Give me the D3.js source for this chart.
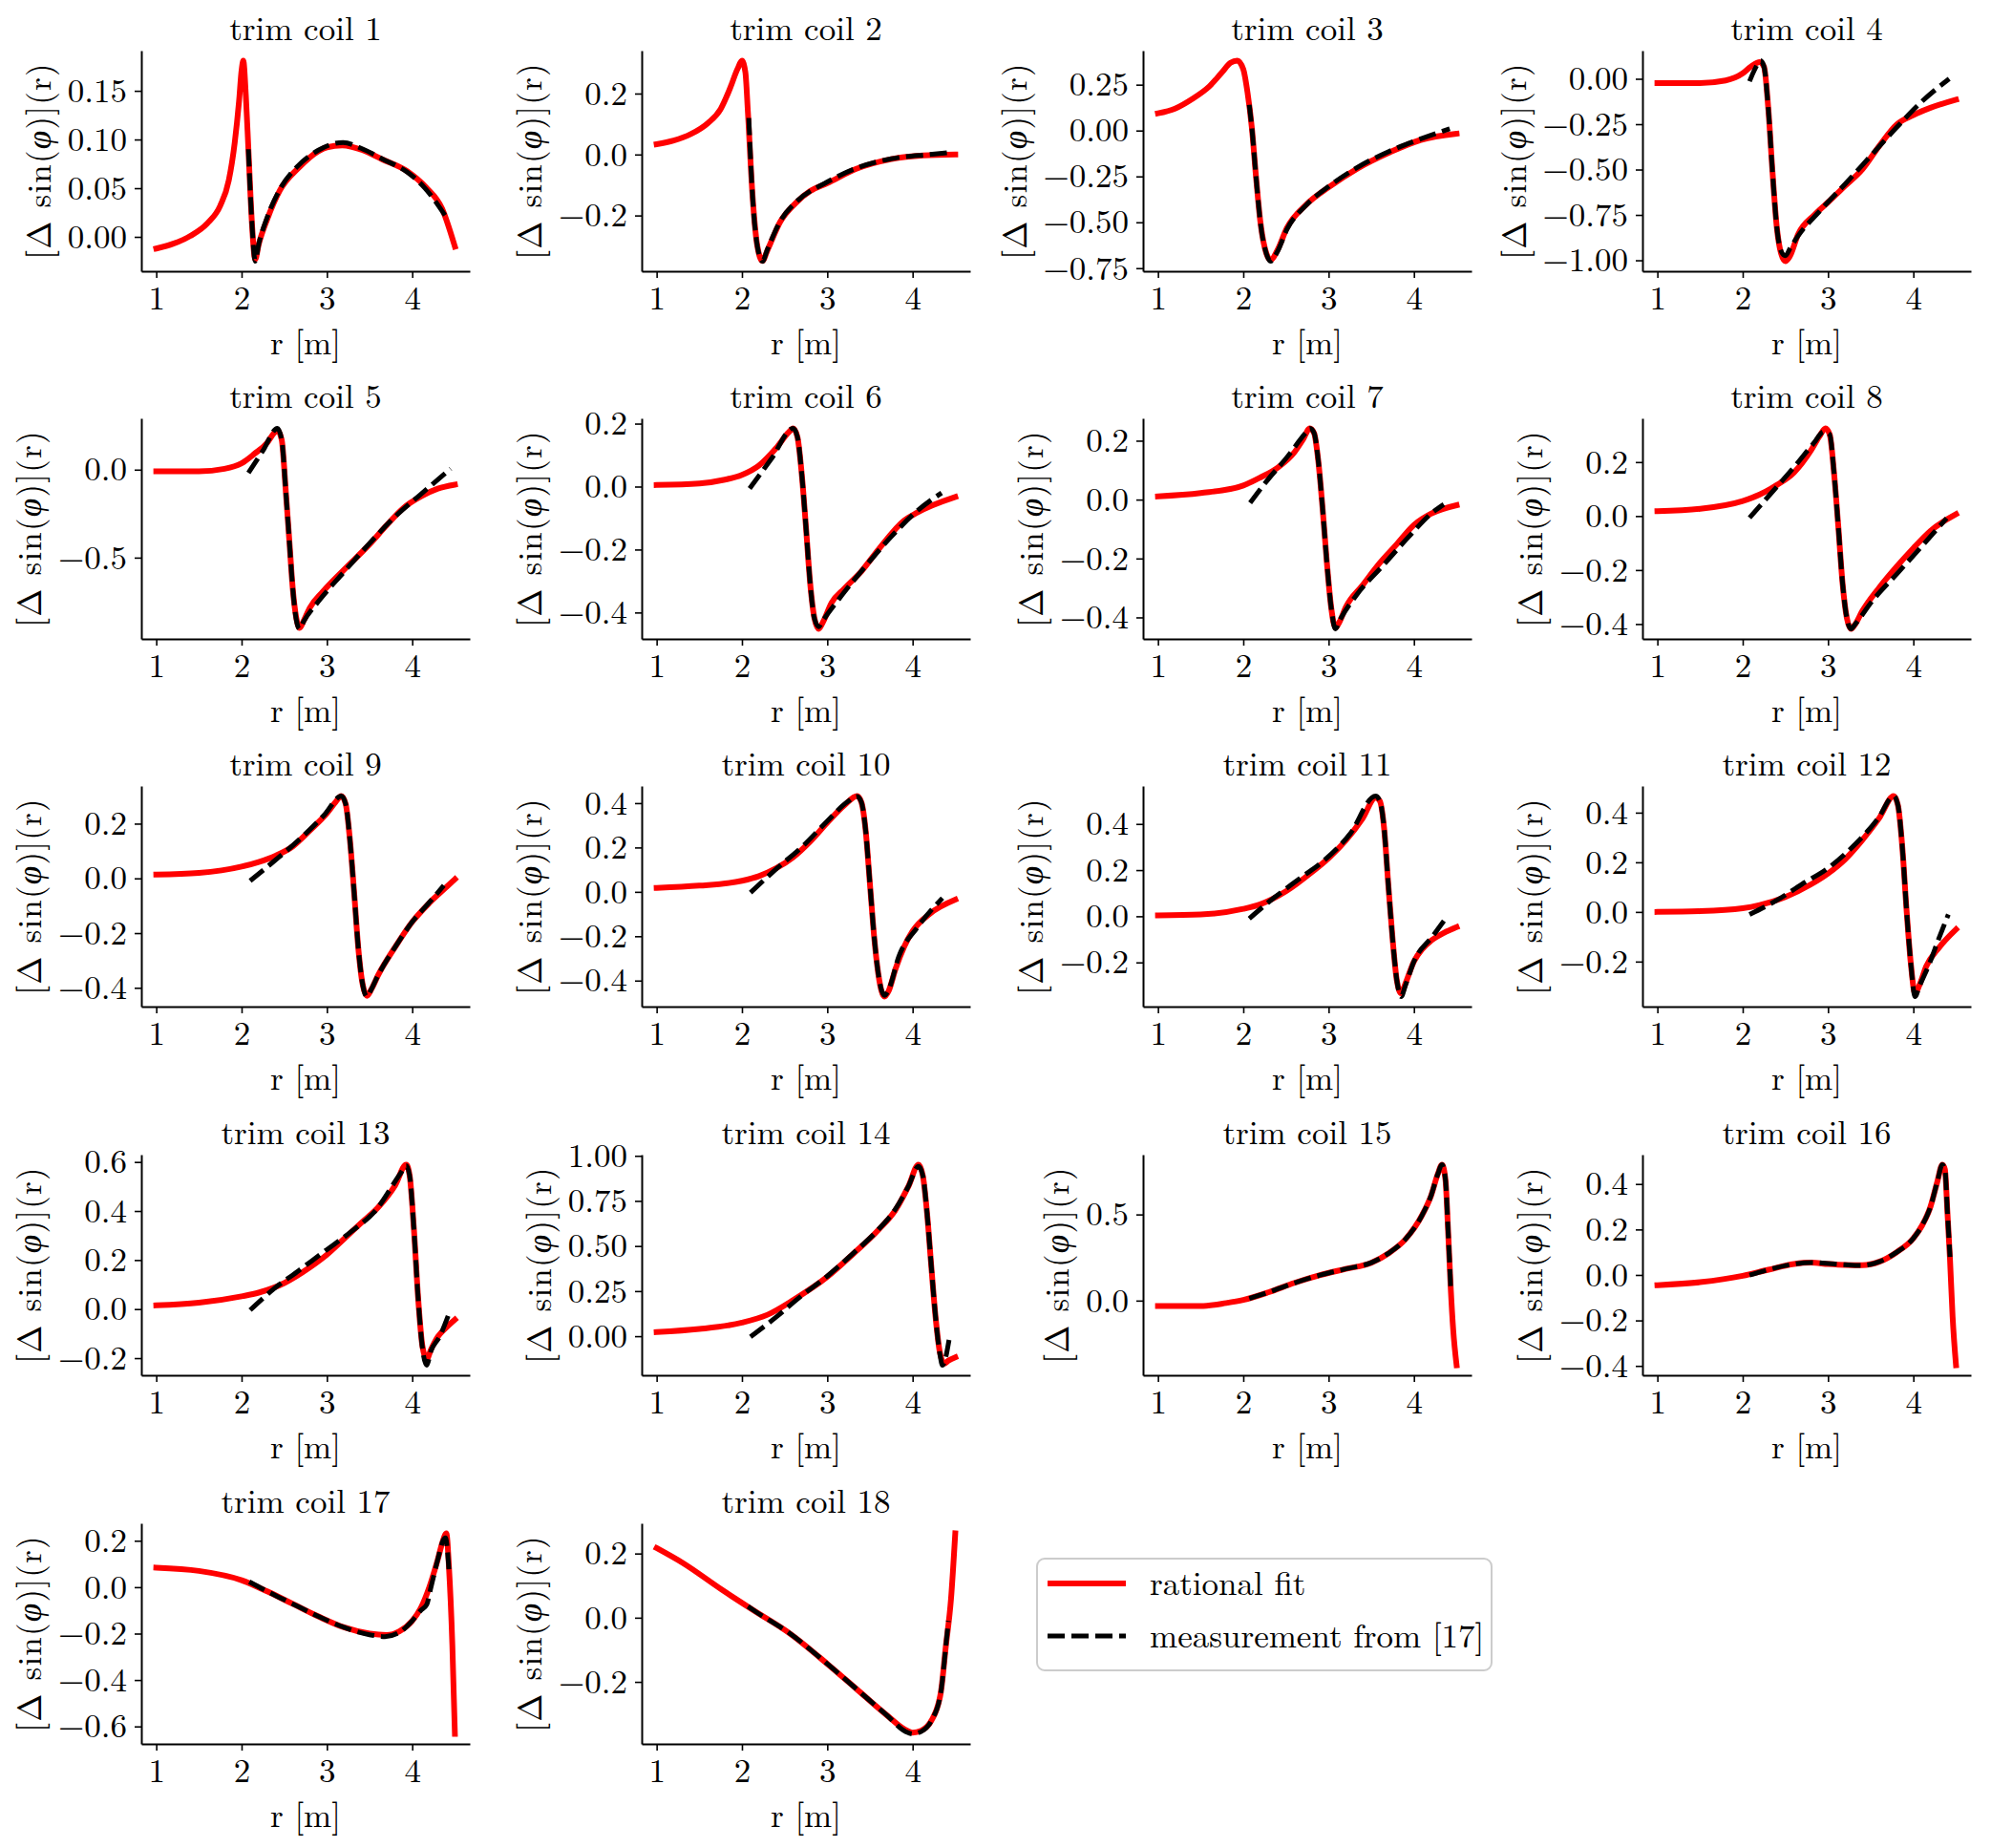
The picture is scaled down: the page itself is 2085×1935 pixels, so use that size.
<!DOCTYPE html>
<html>
<head>
<meta charset="utf-8">
<script src="https://cdn.jsdelivr.net/npm/d3@7"></script>
<style>
  body { margin: 0; background: #fff; }
  svg { display: block; }
  text { font-family: "Latin Modern Roman", "CMU Serif", "Liberation Serif", "Times New Roman", serif; fill: #000; }
</style>
</head>
<body>
<svg id="chart" width="2085" height="1935"></svg>
<script>
const fit1 = [[1,-0.012],[1.2,-0.007],[1.4,0.001],[1.6,0.014],[1.75,0.032],[1.85,0.058],[1.92,0.097],[1.97,0.139],[2.0,0.171],[2.02,0.181],[2.05,0.145],[2.08,0.09],[2.12,0.016],[2.16,-0.023],[2.2,-0.008],[2.3,0.018],[2.45,0.048],[2.67,0.071],[2.9,0.088],[3.0,0.092],[3.18,0.094],[3.42,0.089],[3.64,0.08],[3.94,0.0675],[4.16,0.051],[4.35,0.029],[4.5,-0.01]];
const meas1 = [[2.08,0.09],[2.12,0.016],[2.16,-0.025],[2.2,-0.008],[2.3,0.02],[2.45,0.049],[2.65,0.072],[2.9,0.089],[3.19,0.097],[3.4,0.091],[3.65,0.08],[3.95,0.066],[4.15,0.05],[4.4,0.02]];

const fit2 = [[1,0.034],[1.2,0.046],[1.4,0.067],[1.6,0.103],[1.75,0.149],[1.85,0.21],[1.95,0.282],[2.0,0.308],[2.04,0.27],[2.07,0.138],[2.12,-0.118],[2.18,-0.3],[2.24,-0.349],[2.3,-0.313],[2.45,-0.22],[2.63,-0.159],[2.8,-0.12],[3.0,-0.094],[3.34,-0.047],[3.75,-0.015],[4.12,-0.003],[4.5,0.0]];
const meas2 = [[2.08,0.12],[2.12,-0.118],[2.18,-0.3],[2.24,-0.35],[2.3,-0.31],[2.45,-0.218],[2.63,-0.157],[3.0,-0.09],[3.34,-0.045],[3.75,-0.014],[4.2,0.0],[4.43,0.006]];

const fit3 = [[1,0.094],[1.2,0.12],[1.4,0.172],[1.6,0.24],[1.75,0.317],[1.85,0.369],[1.93,0.381],[2.0,0.334],[2.05,0.206],[2.1,0.017],[2.15,-0.257],[2.2,-0.497],[2.27,-0.669],[2.32,-0.705],[2.4,-0.652],[2.51,-0.532],[2.74,-0.403],[3.0,-0.309],[3.34,-0.206],[3.71,-0.12],[4.08,-0.051],[4.5,-0.017]];
const meas3 = [[2.07,0.14],[2.1,0.017],[2.15,-0.257],[2.2,-0.5],[2.27,-0.67],[2.32,-0.712],[2.4,-0.66],[2.51,-0.54],[2.74,-0.405],[3.0,-0.305],[3.34,-0.2],[3.71,-0.113],[4.08,-0.045],[4.42,0.01]];

const fit4 = [[1,-0.023],[1.5,-0.023],[1.8,-0.009],[2.0,0.03],[2.1,0.069],[2.2,0.092],[2.25,0.066],[2.3,-0.165],[2.35,-0.52],[2.4,-0.82],[2.45,-0.963],[2.5,-1.005],[2.55,-0.98],[2.65,-0.856],[2.84,-0.75],[3.0,-0.68],[3.2,-0.59],[3.4,-0.5],[3.6,-0.37],[3.81,-0.25],[4.0,-0.2],[4.2,-0.16],[4.5,-0.115]];
const meas4 = [[2.08,-0.014],[2.15,0.06],[2.21,0.1],[2.25,0.066],[2.3,-0.165],[2.35,-0.52],[2.4,-0.82],[2.45,-0.95],[2.5,-0.975],[2.56,-0.93],[2.65,-0.865],[2.9,-0.73],[3.2,-0.58],[3.5,-0.425],[3.8,-0.27],[4.1,-0.125],[4.42,0.0]];

const fit5 = [[1,-0.009],[1.5,-0.009],[1.8,0.005],[2.0,0.036],[2.15,0.09],[2.3,0.153],[2.38,0.208],[2.42,0.226],[2.47,0.17],[2.52,-0.135],[2.56,-0.406],[2.6,-0.677],[2.64,-0.84],[2.68,-0.9],[2.73,-0.857],[2.8,-0.785],[2.95,-0.695],[3.2,-0.569],[3.5,-0.424],[3.7,-0.316],[3.9,-0.217],[4.1,-0.153],[4.3,-0.108],[4.5,-0.085]];
const meas5 = [[2.08,-0.018],[2.25,0.108],[2.42,0.235],[2.47,0.17],[2.52,-0.135],[2.56,-0.406],[2.6,-0.677],[2.64,-0.85],[2.68,-0.905],[2.73,-0.86],[2.9,-0.749],[3.19,-0.587],[3.49,-0.424],[3.79,-0.271],[4.09,-0.144],[4.35,-0.036],[4.45,0.005]];

const fit6 = [[1,0.005],[1.5,0.01],[1.8,0.022],[2.0,0.037],[2.2,0.067],[2.4,0.122],[2.55,0.173],[2.6,0.185],[2.65,0.158],[2.7,0.042],[2.75,-0.128],[2.8,-0.309],[2.85,-0.419],[2.9,-0.452],[2.95,-0.43],[3.05,-0.369],[3.2,-0.324],[3.4,-0.269],[3.6,-0.2],[3.9,-0.108],[4.05,-0.083],[4.5,-0.033]];
const meas6 = [[2.09,-0.006],[2.35,0.09],[2.6,0.185],[2.65,0.158],[2.7,0.042],[2.75,-0.128],[2.8,-0.309],[2.85,-0.42],[2.9,-0.445],[2.95,-0.425],[3.16,-0.349],[3.46,-0.249],[3.75,-0.159],[4.05,-0.078],[4.34,-0.02]];

const fit7 = [[1,0.011],[1.5,0.022],[2.0,0.048],[2.2,0.075],[2.4,0.108],[2.6,0.161],[2.7,0.204],[2.78,0.242],[2.83,0.226],[2.88,0.129],[2.93,-0.032],[2.98,-0.215],[3.03,-0.366],[3.08,-0.435],[3.13,-0.414],[3.2,-0.366],[3.4,-0.29],[3.6,-0.215],[3.8,-0.151],[4.0,-0.086],[4.2,-0.048],[4.5,-0.019]];
const meas7 = [[2.08,-0.011],[2.28,0.065],[2.51,0.143],[2.73,0.226],[2.78,0.242],[2.83,0.226],[2.88,0.129],[2.93,-0.032],[2.98,-0.215],[3.03,-0.366],[3.08,-0.439],[3.13,-0.41],[3.33,-0.323],[3.63,-0.226],[3.93,-0.129],[4.22,-0.043],[4.35,-0.016]];

const fit8 = [[1,0.018],[1.5,0.027],[2.0,0.056],[2.2,0.08],[2.4,0.115],[2.6,0.161],[2.8,0.243],[2.9,0.296],[2.97,0.325],[3.02,0.302],[3.07,0.161],[3.12,-0.037],[3.17,-0.248],[3.22,-0.377],[3.27,-0.418],[3.32,-0.4],[3.4,-0.353],[3.6,-0.265],[3.8,-0.189],[4.0,-0.119],[4.2,-0.055],[4.5,0.007]];
const meas8 = [[2.08,-0.006],[2.32,0.08],[2.58,0.173],[2.84,0.273],[2.95,0.313],[3.02,0.302],[3.07,0.161],[3.12,-0.037],[3.17,-0.248],[3.22,-0.377],[3.27,-0.418],[3.32,-0.4],[3.51,-0.318],[3.81,-0.213],[4.11,-0.108],[4.39,-0.008]];

const fit9 = [[1,0.014],[1.5,0.02],[2.0,0.043],[2.2,0.06],[2.4,0.083],[2.6,0.117],[2.8,0.175],[3.0,0.238],[3.1,0.278],[3.17,0.301],[3.22,0.272],[3.27,0.14],[3.32,-0.055],[3.37,-0.262],[3.42,-0.389],[3.47,-0.429],[3.52,-0.406],[3.6,-0.354],[3.8,-0.251],[4.0,-0.159],[4.2,-0.09],[4.4,-0.032],[4.5,-0.003]];
const meas9 = [[2.1,-0.009],[2.37,0.06],[2.67,0.14],[2.97,0.232],[3.17,0.301],[3.22,0.272],[3.27,0.14],[3.32,-0.055],[3.37,-0.262],[3.42,-0.389],[3.47,-0.432],[3.52,-0.406],[3.6,-0.354],[3.8,-0.251],[4.0,-0.159],[4.2,-0.088],[4.37,-0.026]];

const fit10 = [[1,0.018],[1.5,0.028],[2.0,0.05],[2.2,0.071],[2.4,0.106],[2.6,0.156],[2.8,0.227],[3.0,0.312],[3.2,0.39],[3.35,0.432],[3.4,0.404],[3.45,0.276],[3.5,0.035],[3.55,-0.205],[3.6,-0.375],[3.67,-0.472],[3.72,-0.446],[3.8,-0.347],[3.9,-0.248],[4.0,-0.177],[4.2,-0.099],[4.5,-0.035]];
const meas10 = [[2.1,-0.003],[2.41,0.106],[2.71,0.205],[3.0,0.319],[3.23,0.404],[3.35,0.43],[3.4,0.404],[3.45,0.276],[3.5,0.035],[3.55,-0.205],[3.6,-0.375],[3.67,-0.467],[3.72,-0.44],[3.84,-0.29],[4.05,-0.163],[4.35,-0.028]];

const fit11 = [[1,0.004],[1.5,0.008],[2.0,0.032],[2.2,0.052],[2.5,0.108],[2.8,0.19],[3.0,0.252],[3.2,0.328],[3.4,0.425],[3.55,0.514],[3.6,0.5],[3.65,0.383],[3.7,0.135],[3.75,-0.099],[3.8,-0.279],[3.85,-0.334],[3.9,-0.292],[4.0,-0.196],[4.1,-0.141],[4.2,-0.106],[4.35,-0.072],[4.5,-0.047]];
const meas11 = [[2.07,-0.01],[2.36,0.08],[2.66,0.163],[2.96,0.246],[3.25,0.356],[3.55,0.521],[3.6,0.5],[3.65,0.383],[3.7,0.135],[3.75,-0.099],[3.8,-0.279],[3.85,-0.348],[3.9,-0.3],[4.0,-0.196],[4.22,-0.086],[4.39,0.0]];

const fit12 = [[1,0.0],[1.5,0.003],[2.0,0.015],[2.2,0.028],[2.5,0.06],[2.8,0.111],[3.0,0.155],[3.2,0.212],[3.4,0.289],[3.6,0.378],[3.77,0.467],[3.82,0.429],[3.87,0.263],[3.92,0.009],[3.97,-0.207],[4.02,-0.328],[4.07,-0.296],[4.15,-0.22],[4.3,-0.144],[4.5,-0.07]];
const meas12 = [[2.08,-0.01],[2.4,0.047],[2.69,0.111],[2.99,0.174],[3.29,0.263],[3.59,0.378],[3.77,0.467],[3.82,0.429],[3.87,0.263],[3.92,0.009],[3.97,-0.207],[4.02,-0.341],[4.07,-0.3],[4.19,-0.207],[4.3,-0.106],[4.41,-0.01]];

const fit13 = [[1,0.015],[1.5,0.026],[2.0,0.052],[2.2,0.067],[2.5,0.106],[2.8,0.17],[3.0,0.222],[3.2,0.286],[3.4,0.351],[3.6,0.415],[3.8,0.505],[3.93,0.589],[3.97,0.544],[4.02,0.325],[4.07,0.041],[4.12,-0.152],[4.17,-0.204],[4.22,-0.165],[4.3,-0.113],[4.4,-0.075],[4.5,-0.043]];
const meas13 = [[2.1,-0.004],[2.37,0.08],[2.67,0.157],[2.97,0.235],[3.27,0.312],[3.57,0.402],[3.87,0.557],[3.93,0.585],[3.97,0.544],[4.02,0.325],[4.07,0.041],[4.12,-0.16],[4.17,-0.229],[4.22,-0.17],[4.32,-0.113],[4.44,-0.01]];

const fit14 = [[1,0.023],[1.5,0.04],[2.0,0.075],[2.3,0.119],[2.6,0.2],[3.0,0.329],[3.3,0.455],[3.6,0.59],[3.8,0.7],[3.95,0.83],[4.07,0.951],[4.12,0.89],[4.17,0.68],[4.22,0.382],[4.27,0.102],[4.32,-0.091],[4.37,-0.152],[4.42,-0.135],[4.5,-0.117]];
const meas14 = [[2.1,-0.004],[2.41,0.11],[2.7,0.225],[3.0,0.333],[3.3,0.458],[3.6,0.592],[3.8,0.705],[3.95,0.83],[4.07,0.942],[4.12,0.89],[4.17,0.68],[4.22,0.382],[4.27,0.102],[4.32,-0.1],[4.35,-0.161],[4.43,-0.012]];

const fit15 = [[1,-0.032],[1.5,-0.032],[1.8,-0.014],[2.0,0.004],[2.3,0.049],[2.6,0.103],[2.9,0.148],[3.2,0.184],[3.5,0.22],[3.7,0.274],[3.9,0.356],[4.1,0.5],[4.2,0.608],[4.28,0.735],[4.33,0.789],[4.37,0.699],[4.4,0.41],[4.43,0.085],[4.46,-0.168],[4.5,-0.375]];
const meas15 = [[2.07,0.012],[2.3,0.049],[2.6,0.103],[2.9,0.148],[3.2,0.184],[3.5,0.22],[3.7,0.274],[3.9,0.356],[4.1,0.5],[4.2,0.608],[4.28,0.735],[4.33,0.789],[4.37,0.699],[4.4,0.41],[4.43,0.085]];

const fit16 = [[1,-0.045],[1.5,-0.032],[2.0,-0.004],[2.3,0.023],[2.6,0.048],[2.8,0.054],[3.0,0.048],[3.2,0.044],[3.4,0.043],[3.6,0.058],[3.8,0.099],[4.0,0.161],[4.1,0.216],[4.2,0.299],[4.28,0.409],[4.34,0.485],[4.37,0.464],[4.4,0.271],[4.43,0.065],[4.46,-0.183],[4.5,-0.397]];
const meas16 = [[2.08,-0.001],[2.3,0.023],[2.6,0.048],[2.8,0.055],[3.0,0.05],[3.2,0.045],[3.4,0.042],[3.6,0.058],[3.8,0.099],[4.0,0.161],[4.1,0.216],[4.2,0.299],[4.28,0.409],[4.34,0.485],[4.37,0.464],[4.4,0.271],[4.43,0.079]];

const fit17 = [[1,0.084],[1.5,0.07],[2.0,0.03],[2.3,-0.018],[2.6,-0.072],[2.9,-0.126],[3.2,-0.173],[3.5,-0.2],[3.7,-0.206],[3.85,-0.19],[4.0,-0.145],[4.1,-0.09],[4.2,0.0],[4.3,0.12],[4.36,0.2],[4.4,0.232],[4.43,0.09],[4.47,-0.247],[4.5,-0.632]];
const meas17 = [[2.09,0.023],[2.3,-0.018],[2.6,-0.072],[2.9,-0.126],[3.2,-0.173],[3.5,-0.205],[3.68,-0.213],[3.85,-0.195],[4.0,-0.145],[4.1,-0.1],[4.17,-0.075],[4.22,0.0],[4.3,0.12],[4.36,0.2],[4.39,0.212],[4.43,0.077]];

const fit18 = [[1,0.217],[1.31,0.17],[1.76,0.088],[2.16,0.019],[2.56,-0.049],[3.01,-0.146],[3.35,-0.224],[3.69,-0.302],[3.92,-0.35],[4.0,-0.358],[4.1,-0.352],[4.22,-0.321],[4.33,-0.234],[4.39,-0.088],[4.45,0.058],[4.5,0.263]];
const meas18 = [[2.07,0.035],[2.16,0.019],[2.56,-0.049],[3.01,-0.146],[3.35,-0.224],[3.69,-0.302],[3.92,-0.355],[4.0,-0.362],[4.1,-0.355],[4.22,-0.321],[4.33,-0.234],[4.39,-0.088],[4.42,-0.01]];

const fits = [fit1,fit2,fit3,fit4,fit5,fit6,fit7,fit8,fit9,fit10,fit11,fit12,fit13,fit14,fit15,fit16,fit17,fit18];
const meass = [meas1,meas2,meas3,meas4,meas5,meas6,meas7,meas8,meas9,meas10,meas11,meas12,meas13,meas14,meas15,meas16,meas17,meas18];

const titles = d3.range(1, 19).map(i => "trim coil " + i);
const xTicks = [1, 2, 3, 4];
const yTickLabels = [
  ["0.00","0.05","0.10","0.15"],
  ["-0.2","0.0","0.2"],
  ["-0.75","-0.50","-0.25","0.00","0.25"],
  ["-1.00","-0.75","-0.50","-0.25","0.00"],
  ["-0.5","0.0"],
  ["-0.4","-0.2","0.0","0.2"],
  ["-0.4","-0.2","0.0","0.2"],
  ["-0.4","-0.2","0.0","0.2"],
  ["-0.4","-0.2","0.0","0.2"],
  ["-0.4","-0.2","0.0","0.2","0.4"],
  ["-0.2","0.0","0.2","0.4"],
  ["-0.2","0.0","0.2","0.4"],
  ["-0.2","0.0","0.2","0.4","0.6"],
  ["0.00","0.25","0.50","0.75","1.00"],
  ["0.0","0.5"],
  ["-0.4","-0.2","0.0","0.2","0.4"],
  ["-0.6","-0.4","-0.2","0.0","0.2"],
  ["-0.2","0.0","0.2"]
];
const legendLabels = ["rational fit", "measurement from [17]"];

// layout
const colLeft = [148, 672, 1197, 1720];
const rowTop = [53, 438, 823, 1209, 1595];
const pw = 344, ph = 231, fs = 35;
const red = "#ff0000";
const dash = "18,7";

const svg = d3.select("#chart");
svg.append("rect").attr("width", 2085).attr("height", 1935).attr("fill", "#fff");

const line = d3.line()
  .curve(d3.curveMonotoneX)
  .x(d => d[0]).y(d => d[1]);

fits.forEach((fit, i) => {
  const meas = meass[i];
  const all = fit.concat(meas);
  const [x0, x1] = d3.extent(all, d => d[0]);
  const [y0, y1] = d3.extent(all, d => d[1]);
  const xp = (x1 - x0) * 0.05, yp = (y1 - y0) * 0.05;
  const x = d3.scaleLinear().domain([x0 - xp, x1 + xp]).range([0, pw]);
  const y = d3.scaleLinear().domain([y0 - yp, y1 + yp]).range([ph, 0]);

  const g = svg.append("g")
    .attr("transform", `translate(${colLeft[i % 4]},${rowTop[Math.floor(i / 4)]})`);

  // curves
  g.append("path")
    .attr("d", line(fit.map(d => [x(d[0]), y(d[1])])))
    .attr("fill", "none")
    .attr("stroke", red)
    .attr("stroke-width", 6)
    .attr("stroke-linejoin", "round")
    .attr("stroke-linecap", "square");
  g.append("path")
    .attr("d", line(meas.map(d => [x(d[0]), y(d[1])])))
    .attr("fill", "none")
    .attr("stroke", "#000")
    .attr("stroke-width", 5)
    .attr("stroke-dasharray", dash)
    .attr("stroke-linejoin", "round");

  // axes
  const xa = g.append("g")
    .attr("transform", `translate(0,${ph})`)
    .call(d3.axisBottom(x).tickValues(xTicks).tickFormat(d3.format("d"))
      .tickSize(7).tickSizeOuter(0).tickPadding(8));
  const labels = yTickLabels[i];
  const ya = g.append("g")
    .call(d3.axisLeft(y).tickValues(labels.map(Number))
      .tickFormat((d, k) => labels[k].replace("-", "\u2212"))
      .tickSize(7).tickSizeOuter(0).tickPadding(8));
  [xa, ya].forEach(a => {
    a.attr("font-family", null).attr("font-size", null);
    a.select(".domain").attr("stroke", "#000").attr("stroke-width", 2);
    a.selectAll(".tick line").attr("stroke", "#000").attr("stroke-width", 1.6);
    a.selectAll(".tick text").style("font-size", fs + "px").attr("fill", "#000");
  });

  // title
  g.append("text")
    .attr("x", pw / 2).attr("y", -11)
    .attr("text-anchor", "middle")
    .style("font-size", fs + "px")
    .text(titles[i]);

  // x label
  g.append("text")
    .attr("x", pw / 2).attr("y", ph + 87)
    .attr("text-anchor", "middle")
    .style("font-size", fs + "px")
    .text("r [m]");

  // y label (math-like spacing), placed left of the tick labels
  const tickLeft = ya.node().getBBox().x;
  const yl = g.append("text")
    .attr("text-anchor", "middle")
    .style("font-size", fs + "px")
    .style("letter-spacing", "1.2px");
  yl.append("tspan").text("[\u0394 sin(");
  yl.append("tspan").style("font-style", "italic").text("\u03c6");
  yl.append("tspan").text(")](r)");
  const bb = yl.node().getBBox();
  const tx = tickLeft - 8 - (bb.y + bb.height);
  yl.attr("transform", `translate(${tx},${ph / 2}) rotate(-90)`);
});

// legend
const lg = svg.append("g").attr("transform", "translate(1086,1632)");
lg.append("rect")
  .attr("width", 476).attr("height", 117)
  .attr("rx", 8)
  .attr("fill", "#fff")
  .attr("stroke", "#cccccc")
  .attr("stroke-width", 2);
legendLabels.forEach((lab, k) => {
  const yy = 26 + k * 55;
  lg.append("line")
    .attr("x1", 11).attr("x2", 93).attr("y1", yy).attr("y2", yy)
    .attr("stroke", k === 0 ? red : "#000")
    .attr("stroke-width", k === 0 ? 6 : 5)
    .attr("stroke-dasharray", k === 0 ? null : dash);
  lg.append("text")
    .attr("x", 118).attr("y", yy)
    .attr("dy", "0.35em")
    .style("font-size", fs + "px")
    .text(lab);
});
</script>
</body>
</html>
